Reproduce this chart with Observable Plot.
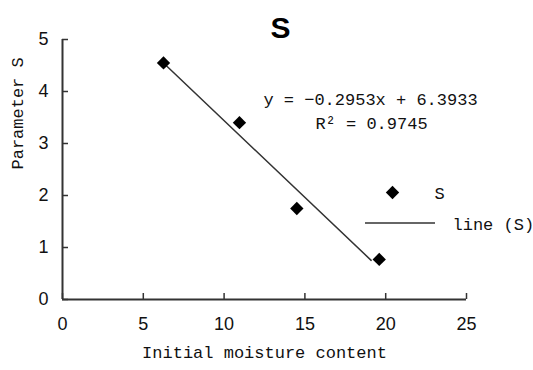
<!DOCTYPE html>
<html>
<head>
<meta charset="utf-8">
<script src="https://cdn.jsdelivr.net/npm/d3@7"></script>
<script src="https://cdn.jsdelivr.net/npm/@observablehq/plot@0.6"></script>
<style>
  html, body { margin: 0; padding: 0; background: #fff; }
  #chart { position: relative; width: 533px; height: 370px; }
</style>
</head>
<body>
<div id="chart"></div>
<script>
// Data
const moisture = [6.25, 10.95, 14.5, 19.6];
const paramS = [4.55, 3.4, 1.75, 0.77];
const slope = -0.2953;
const intercept = 6.3933;
const trendX = [6.25, 19.1];
const xTicks = [0, 5, 10, 15, 20, 25];
const yTicks = [0, 1, 2, 3, 4, 5];
const equationText = "y = −0.2953x + 6.3933";
const r2Text = "R² = 0.9745";
const titleText = "S";
const xLabel = "Initial moisture content";
const yLabel = "Parameter S";
const legendLabels = ["S", "line (S)"];

const points = moisture.map((x, i) => ({x, y: paramS[i]}));
const trend = trendX.map(x => ({x, y: slope * x + intercept}));

const mono = "'Liberation Mono', 'DejaVu Sans Mono', monospace";
const sans = "'Liberation Sans', Arial, sans-serif";
const ink = "#111";
const fmt = d3.format("d");
const blank = () => "";

const plot = Plot.plot({
  width: 533,
  height: 370,
  marginLeft: 62,
  marginRight: 67,
  marginTop: 39,
  marginBottom: 71,
  style: {fontFamily: sans, background: "#fff", color: ink},
  x: {domain: [0, 25]},
  y: {domain: [0, 5]},
  marks: [
    // inward ticks
    Plot.axisX(xTicks, {tickSize: 6, dy: -6, tickFormat: blank, stroke: "#333", strokeWidth: 1.5, label: null}),
    Plot.axisY(yTicks, {tickSize: 6, dx: 6, tickFormat: blank, stroke: "#333", strokeWidth: 1.5, label: null}),
    // tick labels
    Plot.axisX(xTicks, {tickSize: 0, tickPadding: 18, tickFormat: fmt, fontSize: 18, label: null, fill: ink}),
    Plot.axisY(yTicks, {tickSize: 0, tickPadding: 14, tickFormat: fmt, fontSize: 18, label: null, fill: ink}),
    Plot.ruleX([0], {stroke: "#333", strokeWidth: 2}),
    Plot.ruleY([0], {stroke: "#333", strokeWidth: 2}),
    Plot.line(trend, {x: "x", y: "y", stroke: "#333", strokeWidth: 1.5}),
    Plot.dot(points, {x: "x", y: "y", symbol: "diamond2", r: 6, fill: "#000", stroke: "none"}),
    Plot.text([titleText], {frameAnchor: "top", dx: 16, dy: -2, lineAnchor: "bottom", fontSize: 30, fontWeight: "bold", fontFamily: sans, fill: "#000"}),
    Plot.text([xLabel], {frameAnchor: "bottom", dy: 58, fontSize: 17, fontFamily: mono, fill: ink}),
    Plot.text([yLabel], {frameAnchor: "left", dx: -45, rotate: -90, fontSize: 17, fontFamily: mono, fill: ink}),
    Plot.text([equationText], {frameAnchor: "top-left", textAnchor: "middle", lineAnchor: "middle", dx: 308, dy: 60, fontSize: 17, fontFamily: mono, fill: ink}),
    Plot.text([r2Text], {frameAnchor: "top-left", textAnchor: "middle", lineAnchor: "middle", dx: 309, dy: 84, fontSize: 17, fontFamily: mono, fill: ink}),
    // legend
    Plot.dot([legendLabels[0]], {frameAnchor: "top-left", dx: 330, dy: 153, symbol: "diamond2", r: 6, fill: "#000", stroke: "none"}),
    Plot.text([legendLabels[0]], {frameAnchor: "top-left", textAnchor: "middle", lineAnchor: "middle", dx: 377, dy: 154, fontSize: 17, fontFamily: mono, fill: ink}),
    Plot.text([legendLabels[1]], {frameAnchor: "top-left", textAnchor: "start", lineAnchor: "middle", dx: 390, dy: 185, fontSize: 17, fontFamily: mono, fill: ink})
  ]
});

// legend line sample
d3.select(plot).append("line")
  .attr("x1", 365).attr("x2", 435).attr("y1", 223).attr("y2", 223)
  .attr("stroke", "#333").attr("stroke-width", 1.5);

document.getElementById("chart").appendChild(plot);
</script>
</body>
</html>
